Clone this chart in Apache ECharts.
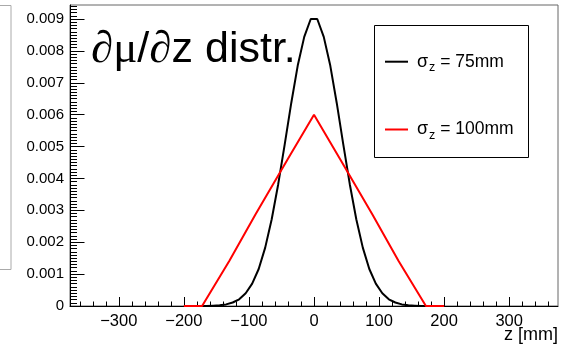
<!DOCTYPE html>
<html>
<head>
<meta charset="utf-8">
<script src="https://cdn.jsdelivr.net/npm/echarts@6/dist/echarts.min.js"></script>
<style>
  html, body { margin: 0; padding: 0; background: #fff; }
  #chart { width: 569px; height: 344px; }
</style>
</head>
<body>
<div id="chart"></div>
<script>
// z positions [mm] and dmu/dz values for the two bunch lengths
const zBlack = [-200, -185, -175, -165, -155, -145, -135, -125, -115, -105, -95, -85, -75, -65, -55, -45, -35, -25, -15, -5,
                5, 15, 25, 35, 45, 55, 65, 75, 85, 95, 105, 115, 125, 135, 145, 155, 165, 175, 185, 200];
const vBlack = [0, 0, 0, 0, 0.00001, 0.00002, 0.00005, 0.00011, 0.00021, 0.00040, 0.00070, 0.00116, 0.00183, 0.00272, 0.00382, 0.00507, 0.00636, 0.00754, 0.00844, 0.00900,
                0.00900, 0.00844, 0.00754, 0.00636, 0.00507, 0.00382, 0.00272, 0.00183, 0.00116, 0.00070, 0.00040, 0.00021, 0.00011, 0.00005, 0.00002, 0.00001, 0, 0, 0, 0];
const zRed = [-200, -172, -130, -90, -40, 0, 40, 90, 130, 172, 200];
const vRed = [0, 0, 0.00142, 0.00287, 0.00462, 0.006, 0.00461, 0.00286, 0.00141, 0, 0];

// axis ticks
const xMajorTicks = [-300, -200, -100, 0, 100, 200, 300];
const yMajorTicks = [0, 0.001, 0.002, 0.003, 0.004, 0.005, 0.006, 0.007, 0.008, 0.009];
const seriesNames = ['s75', 's100'];
const legendLabels = { s75: '75mm', s100: '100mm' };

const X_MIN = -375, X_MAX = 375, Y_MIN = 0, Y_MAX = 0.00944;

const xMinorTicks = [];
for (let v = -360; v <= 360; v += 20) xMinorTicks.push(v);
const yMinorTicks = [];
for (let k = 0; k <= 94; k++) yMinorTicks.push(+(k * 0.0001).toFixed(4));

const FONT = 'Liberation Sans, Arial, Helvetica, sans-serif';

function pairs(xs, ys) { return xs.map((x, i) => [x, ys[i]]); }

const chart = echarts.init(document.getElementById('chart'), null, { renderer: 'canvas' });

chart.setOption({
  animation: false,
  backgroundColor: '#fff',
  grid: { left: 70, right: 11, top: 5, bottom: 38, show: true, borderColor: '#666', borderWidth: 1, backgroundColor: 'transparent' },
  xAxis: [
    {
      type: 'value', min: X_MIN, max: X_MAX,
      axisLine: { show: true, onZero: false, lineStyle: { color: '#000', width: 1 } },
      axisTick: { show: true, inside: true, length: 9, customValues: xMajorTicks, lineStyle: { color: '#000' } },
      axisLabel: {
        customValues: xMajorTicks, margin: 7, fontSize: 16.5, color: '#000', fontFamily: FONT,
        formatter: v => (v < 0 ? '\u2212' + Math.abs(v) : String(v))
      },
      splitLine: { show: false }
    },
    {
      type: 'value', min: X_MIN, max: X_MAX, position: 'bottom',
      axisLine: { show: false, onZero: false },
      axisTick: { show: true, inside: true, length: 4.5, customValues: xMinorTicks, lineStyle: { color: '#000' } },
      axisLabel: { show: false },
      splitLine: { show: false }
    }
  ],
  yAxis: [
    {
      type: 'value', min: Y_MIN, max: Y_MAX,
      axisLine: { show: true, onZero: false, lineStyle: { color: '#000', width: 1 } },
      axisTick: { show: true, inside: true, length: 14.5, customValues: yMajorTicks, lineStyle: { color: '#000' } },
      axisLabel: {
        customValues: yMajorTicks, margin: 6, fontSize: 15, color: '#000', fontFamily: FONT,
        formatter: v => (v === 0 ? '0' : v.toFixed(3))
      },
      splitLine: { show: false }
    },
    {
      type: 'value', min: Y_MIN, max: Y_MAX, position: 'left',
      axisLine: { show: false, onZero: false },
      axisTick: { show: true, inside: true, length: 7, customValues: yMinorTicks, lineStyle: { color: '#000' } },
      axisLabel: { show: false },
      splitLine: { show: false }
    }
  ],
  legend: {
    data: seriesNames,
    orient: 'vertical',
    left: 380, top: 46.7,
    itemWidth: 23, itemHeight: 2, itemGap: 45.3,
    icon: 'rect',
    selectedMode: false,
    formatter: name => '{s|σ}{sub|z}{t| = ' + legendLabels[name] + '}',
    textStyle: {
      color: '#000', fontFamily: FONT, fontSize: 18, lineHeight: 20, padding: [0, 0, 0, 4],
      rich: {
        s: { fontSize: 18, fontFamily: FONT, color: '#000' },
        sub: { fontSize: 12.5, fontFamily: FONT, color: '#000', padding: [12, 0, 0, 1] },
        t: { fontSize: 17.5, fontFamily: FONT, color: '#000' }
      }
    }
  },
  graphic: [
    { type: 'rect', z: 1, shape: { x: 374.5, y: 25.5, width: 154, height: 132 }, style: { fill: '#fff', stroke: '#000', lineWidth: 1 } },
    { type: 'rect', z: 1, shape: { x: -10, y: 5.5, width: 21, height: 264 }, style: { fill: 'none', stroke: '#aaa', lineWidth: 1 } },
    {
      type: 'text', z: 5, left: 91, top: 28,
      style: {
        text: '{a|∂μ}{b|/}{a|∂}{b|z distr.}',
        rich: {
          a: { fontFamily: 'Liberation Serif, DejaVu Serif, serif', fontSize: 45, fill: '#000' },
          b: { fontFamily: FONT, fontSize: 43, fill: '#000' }
        }
      }
    },
    {
      type: 'text', z: 5, right: 11, top: 326,
      style: { text: 'z [mm]', fontFamily: FONT, fontSize: 18, fill: '#000' }
    }
  ],
  series: [
    {
      name: 's75', type: 'line', xAxisIndex: 0, yAxisIndex: 0,
      data: pairs(zBlack, vBlack), showSymbol: false, symbol: 'none',
      lineStyle: { color: '#000', width: 2 }, itemStyle: { color: '#000' }, z: 2
    },
    {
      name: 's100', type: 'line', xAxisIndex: 0, yAxisIndex: 0,
      data: pairs(zRed, vRed), showSymbol: false, symbol: 'none',
      lineStyle: { color: '#ff0000', width: 2 }, itemStyle: { color: '#ff0000' }, z: 3
    }
  ]
});
</script>
</body>
</html>
